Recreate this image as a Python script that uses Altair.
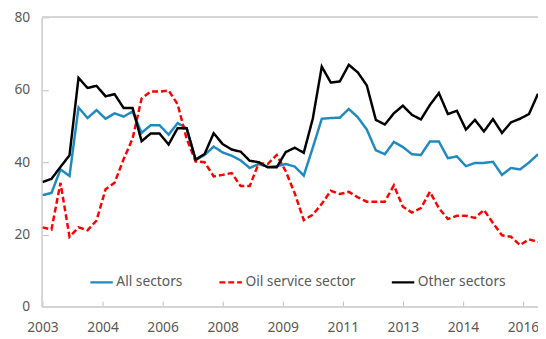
import altair as alt
import pandas as pd

# Quarterly observations, 2003Q1 .. 2016Q4
quarters = [f"{2003 + i // 4}Q{i % 4 + 1}" for i in range(56)]

all_sectors = [30.9, 31.5, 38.0, 36.2, 55.1, 52.2, 54.4, 52.0, 53.5, 52.6,
               54.0, 48.1, 50.2, 50.2, 47.6, 50.8, 49.4, 40.6, 42.0, 44.3,
               42.7, 41.8, 40.5, 38.4, 39.5, 38.7, 38.9, 39.5, 38.8, 36.3,
               44.0, 52.0, 52.2, 52.3, 54.7, 52.4, 49.0, 43.3, 42.2, 45.6,
               44.2, 42.2, 42.0, 45.7, 45.7, 41.1, 41.6, 38.9, 39.8, 39.8,
               40.1, 36.5, 38.4, 38.0, 39.9, 42.2]

oil_service = [22.0, 21.4, 34.3, 19.4, 22.0, 21.2, 23.9, 32.5, 34.3, 40.8,
               46.5, 57.6, 59.5, 59.5, 59.8, 56.0, 46.5, 40.2, 40.0, 36.1,
               36.5, 37.0, 33.4, 33.4, 39.7, 39.5, 42.0, 37.5, 31.4, 24.0,
               25.5, 28.5, 32.1, 31.2, 31.8, 30.3, 29.1, 29.1, 29.1, 33.6,
               27.7, 26.1, 27.3, 31.8, 27.3, 24.3, 25.2, 25.2, 24.6, 26.8,
               23.2, 19.8, 19.4, 17.1, 18.7, 18.0]

other_sectors = [34.5, 35.4, 38.7, 41.9, 63.3, 60.5, 61.1, 58.2, 58.8, 55.0,
                 55.0, 45.8, 47.9, 47.9, 44.9, 49.4, 49.4, 40.7, 42.3, 48.0,
                 45.0, 43.5, 42.9, 40.4, 40.0, 38.6, 38.6, 42.8, 44.0, 42.6,
                 52.0, 66.4, 62.0, 62.3, 66.9, 64.8, 61.2, 51.7, 50.4, 53.5,
                 55.6, 53.1, 51.8, 55.8, 59.1, 53.3, 54.2, 49.0, 51.7, 48.5,
                 51.9, 48.1, 51.0, 52.0, 53.3, 58.9]

series_names = ["All sectors", "Oil service sector", "Other sectors"]
series_colors = ["#1f8ac0", "#ff0000", "#000000"]
tick_months = [0, 20, 40, 60, 80, 100, 120, 140, 160]
y_ticks = [0, 20, 40, 60, 80]

rows = []
for name, vals in zip(series_names, [all_sectors, oil_service, other_sectors]):
    for i, (q, v) in enumerate(zip(quarters, vals)):
        year, qn = int(q[:4]), int(q[-1])
        rows.append({"series": name, "quarter": q,
                     "m": (year - 2003) * 12 + (qn - 1) * 3, "value": v})
df = pd.DataFrame(rows)

FONT = "Noto Sans"
TXT = "#595959"
GRID = "#d4d4d4"

legend = alt.Legend(
    title=None, orient="none", direction="horizontal",
    legendX=47, legendY=256, symbolType="stroke", symbolSize=520,
    symbolStrokeWidth=2.5, labelFontSize=14, labelFont=FONT,
    labelColor=TXT, labelOffset=2, columnPadding=31, padding=0,
)

x_enc = alt.X(
    "m:Q",
    scale=alt.Scale(domain=[0, 165], nice=False, zero=False),
    axis=alt.Axis(values=tick_months, labelExpr="toString(2003 + floor(datum.value / 12))",
                  title=None, domain=False, grid=False, tickSize=6, offset=-6,
                  tickColor="#bfbfbf", labelPadding=14, labelFontSize=14,
                  labelFont=FONT, labelColor=TXT, labelFlush=False,
                  labelOverlap=False),
)
y_enc = alt.Y(
    "value:Q",
    scale=alt.Scale(domain=[0, 80], nice=False),
    axis=alt.Axis(values=y_ticks, title=None, domain=False, grid=False,
                  tickSize=6, offset=-6, tickColor="#bfbfbf", labelPadding=13,
                  labelFontSize=14, labelFont=FONT, labelColor=TXT),
)

lines = alt.Chart(df).mark_line(strokeWidth=2.5, clip=True).encode(
    x=x_enc,
    y=y_enc,
    color=alt.Color("series:N", scale=alt.Scale(domain=series_names, range=series_colors),
                    legend=legend),
    strokeDash=alt.StrokeDash("series:N",
                              scale=alt.Scale(domain=series_names,
                                              range=[[1, 0], [6, 3], [1, 0]]),
                              legend=legend),
    order=alt.Order("m:Q"),
)

frame_top = alt.Chart(df).mark_rule(color=GRID, strokeWidth=1).encode(y=alt.datum(80))
frame_bottom = alt.Chart(df).mark_rule(color=GRID, strokeWidth=1).encode(y=alt.datum(0))
frame_left = alt.Chart(df).mark_rule(color=GRID, strokeWidth=1).encode(x=alt.datum(0))

chart = alt.layer(frame_top, frame_bottom, frame_left, lines).properties(
    width=503, height=294,
    autosize=alt.AutoSizeParams(type="none"),
    padding={"left": 35, "top": 7, "right": 0, "bottom": 34},
).configure_view(stroke=None)

chart.save("out.html", embed_options={"renderer": "svg", "actions": False})
